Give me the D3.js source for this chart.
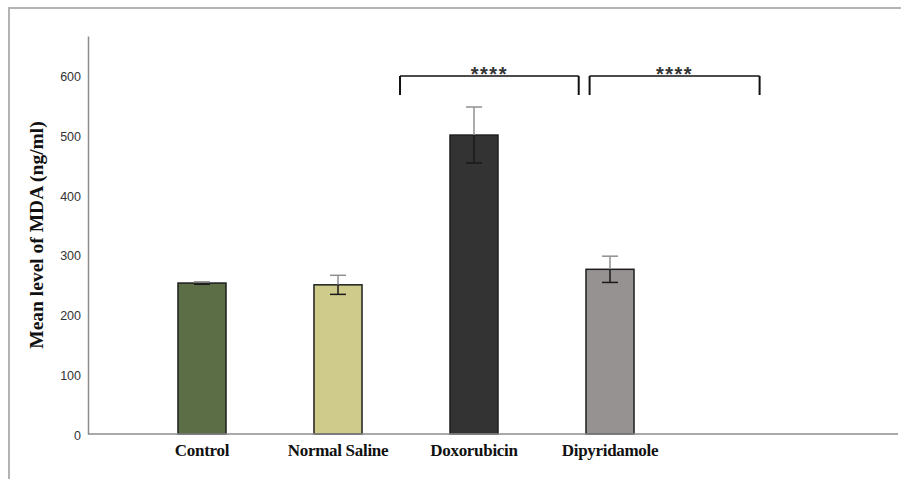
<!DOCTYPE html>
<html>
<head>
<meta charset="utf-8">
<script src="https://cdn.jsdelivr.net/npm/d3@7"></script>
<style>
  body { margin: 0; background: #fff; }
  svg { display: block; }
</style>
</head>
<body>
<div id="chart"></div>
<script>
const groups = ["Control", "Normal Saline", "Doxorubicin", "Dipyridamole"];
const means = [253, 250, 501, 276];
const errors = [2, 16, 47, 22];
const barColors = ["#5b6e45", "#cfcb8b", "#333333", "#979292"];
const yTicks = [0, 100, 200, 300, 400, 500, 600];

// significance brackets, ends given in group-index units
const brackets = [
  { from: 1.456, to: 2.77, label: "****" },
  { from: 2.85, to: 4.1, label: "****" }
];
const bracketTop = 600;
const bracketBottom = 568;

const width = 901;
const height = 479;

const svg = d3.select("#chart").append("svg")
  .attr("width", width)
  .attr("height", height);

// frame (top + left)
svg.append("path")
  .attr("d", `M9,${height} L9,8 L${width},8`)
  .attr("fill", "none")
  .attr("stroke", "#b3b3b3")
  .attr("stroke-width", 2);

const y = d3.scaleLinear()
  .domain([0, 667])
  .range([434, 36]);

const x = d3.scaleBand()
  .domain(groups)
  .range([134, 678])
  .paddingInner(0.647)
  .paddingOuter(0.3235);

const xi = d3.scaleLinear()
  .domain([0, groups.length - 1])
  .range([x(groups[0]) + x.bandwidth() / 2, x(groups[groups.length - 1]) + x.bandwidth() / 2]);

// y axis
const yAxis = svg.append("g")
  .attr("transform", "translate(88,0)")
  .call(d3.axisLeft(y).tickValues(yTicks).tickSize(0).tickPadding(7));
yAxis.select(".domain").attr("stroke", "#8c8c8c").attr("stroke-width", 1.5);
yAxis.selectAll("text")
  .attr("font-family", "Liberation Sans, Arial, sans-serif")
  .attr("font-size", 12.5)
  .attr("fill", "#333")
  .attr("dy", "0.4em");

svg.append("text")
  .attr("transform", `translate(43,${(y(0) + y(667)) / 2}) rotate(-90)`)
  .attr("text-anchor", "middle")
  .attr("font-family", "Liberation Serif, Times New Roman, serif")
  .attr("font-weight", "bold")
  .attr("font-size", 19.5)
  .attr("fill", "#111")
  .text("Mean level of MDA (ng/ml)");

// bars
svg.append("g")
  .selectAll("rect")
  .data(groups)
  .join("rect")
  .attr("x", d => x(d))
  .attr("y", (d, i) => y(means[i]))
  .attr("width", x.bandwidth())
  .attr("height", (d, i) => y(0) - y(means[i]))
  .attr("fill", (d, i) => barColors[i])
  .attr("stroke", "#1e1e1e")
  .attr("stroke-width", 1.5);

// x axis line
svg.append("line")
  .attr("x1", 88).attr("x2", 898)
  .attr("y1", y(0)).attr("y2", y(0))
  .attr("stroke", "#8c8c8c")
  .attr("stroke-width", 1.5);

// error bars: upper half light, lower half dark
const capW = 16;
const eb = svg.append("g");
groups.forEach((g, i) => {
  const cx = x(g) + x.bandwidth() / 2;
  const top = y(means[i] + errors[i]);
  const mid = y(means[i]);
  const bot = y(means[i] - errors[i]);
  eb.append("line").attr("x1", cx).attr("x2", cx).attr("y1", top).attr("y2", mid)
    .attr("stroke", "#8f8f8f").attr("stroke-width", 1.5);
  eb.append("line").attr("x1", cx - capW / 2).attr("x2", cx + capW / 2).attr("y1", top).attr("y2", top)
    .attr("stroke", "#8f8f8f").attr("stroke-width", 1.5);
  eb.append("line").attr("x1", cx).attr("x2", cx).attr("y1", mid).attr("y2", bot)
    .attr("stroke", "#1a1a1a").attr("stroke-width", 1.5);
  eb.append("line").attr("x1", cx - capW / 2).attr("x2", cx + capW / 2).attr("y1", bot).attr("y2", bot)
    .attr("stroke", "#1a1a1a").attr("stroke-width", 1.5);
});

// x labels
svg.append("g")
  .selectAll("text")
  .data(groups)
  .join("text")
  .attr("x", d => x(d) + x.bandwidth() / 2)
  .attr("y", 456)
  .attr("text-anchor", "middle")
  .attr("font-family", "Liberation Serif, Times New Roman, serif")
  .attr("font-weight", "bold")
  .attr("font-size", 17)
  .attr("letter-spacing", -0.3)
  .attr("fill", "#111")
  .text(d => d);

// significance brackets
const br = svg.append("g");
brackets.forEach(b => {
  const x1 = xi(b.from), x2 = xi(b.to);
  br.append("path")
    .attr("d", `M${x1},${y(bracketTop)} L${x2},${y(bracketTop)}`)
    .attr("fill", "none")
    .attr("stroke", "#111")
    .attr("stroke-width", 1.6);
  br.append("path")
    .attr("d", `M${x1},${y(bracketTop)} L${x1},${y(bracketBottom)} M${x2},${y(bracketTop)} L${x2},${y(bracketBottom)}`)
    .attr("fill", "none")
    .attr("stroke", "#111")
    .attr("stroke-width", 2);
  br.append("text")
    .attr("x", (x1 + x2) / 2)
    .attr("y", y(bracketTop) + 5)
    .attr("text-anchor", "middle")
    .attr("font-family", "Liberation Sans, Arial, sans-serif")
    .attr("font-weight", "bold")
    .attr("font-size", 20)
    .attr("letter-spacing", 1.5)
    .attr("fill", "#333")
    .text(b.label);
});
</script>
</body>
</html>
